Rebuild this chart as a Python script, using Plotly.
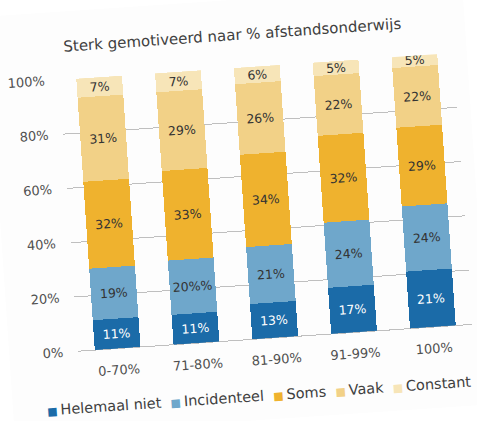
import plotly.graph_objects as go

categories = ["0-70%", "71-80%", "81-90%", "91-99%", "100%"]
series_names = ["Helemaal niet", "Incidenteel", "Soms", "Vaak", "Constant"]
helemaal_niet = [11, 11, 13, 17, 21]
incidenteel = [19, 20, 21, 24, 24]
soms = [32, 33, 34, 32, 29]
vaak = [31, 29, 26, 22, 22]
constant = [7, 7, 6, 5, 5]
y_tick_vals = [0, 20, 40, 60, 80, 100]
y_tick_text = ["0%", "20%", "40%", "60%", "80%", "100%"]

series_values = [helemaal_niet, incidenteel, soms, vaak, constant]
colors = ["#1B6BA8", "#6FA7CB", "#EFB22E", "#F2D187", "#F7E5B8"]
text_colors = ["#FFFFFF", "#333333", "#333333", "#333333", "#333333"]

FONT = "DejaVu Sans"

fig = go.Figure()
for name, vals, col, tcol in zip(series_names, series_values, colors, text_colors):
    fig.add_trace(go.Bar(
        name=name, x=categories, y=vals,
        marker=dict(color=col, line=dict(width=0)),
        texttemplate="%{y}%", textposition="inside", insidetextanchor="middle",
        textangle=0,
        textfont=dict(family=FONT, size=12.5, color=tcol),
        constraintext="none",
        hoverinfo="skip",
        showlegend=False,
    ))

# legend row built from the series names and colours
legend_parts = []
for name, col in zip(series_names, colors):
    legend_parts.append(
        f"<span style='color:{col};font-size:11px'>\u25A0</span>\u2009{name}")
legend_text = "  ".join(legend_parts)
fig.add_annotation(text=legend_text, xref="paper", yref="paper",
                   x=0.45, y=-0.211, xanchor="center", yanchor="middle",
                   showarrow=False, font=dict(family=FONT, size=14.5, color="#404040"))

fig.update_layout(
    width=477, height=421,
    barmode="stack", bargap=0.42,
    margin=dict(l=69, r=13, t=68, b=81, autoexpand=False),
    paper_bgcolor="#FDFDFD", plot_bgcolor="#FDFDFD",
    font=dict(family=FONT, color="#404040"),
    title=dict(text="Sterk gemotiveerd naar % afstandsonderwijs",
               x=0.512, xanchor="center", y=0.917, yanchor="middle",
               font=dict(family=FONT, size=15, color="#404040")),
    showlegend=False,
)
fig.update_xaxes(tickfont=dict(family=FONT, size=13, color="#505050"),
                 showgrid=False, showline=False, ticks="", ticklabelstandoff=12)
fig.update_yaxes(range=[0, 100], tickvals=y_tick_vals, ticktext=y_tick_text,
                 tickfont=dict(family=FONT, size=13, color="#505050"),
                 showgrid=True, gridcolor="#BFBFBF", gridwidth=1,
                 zeroline=True, zerolinecolor="#BFBFBF", zerolinewidth=1,
                 ticks="", ticklabelstandoff=14)

post = ("document.body.style.margin='0';"
        "document.body.style.background='#FFFFFF';"
        "var d=document.getElementById('{plot_id}');"
        "d.style.transform='rotate(-3.9deg)';d.style.transformOrigin='50% 50%';")

fig.write_html("out.html", post_script=post)
